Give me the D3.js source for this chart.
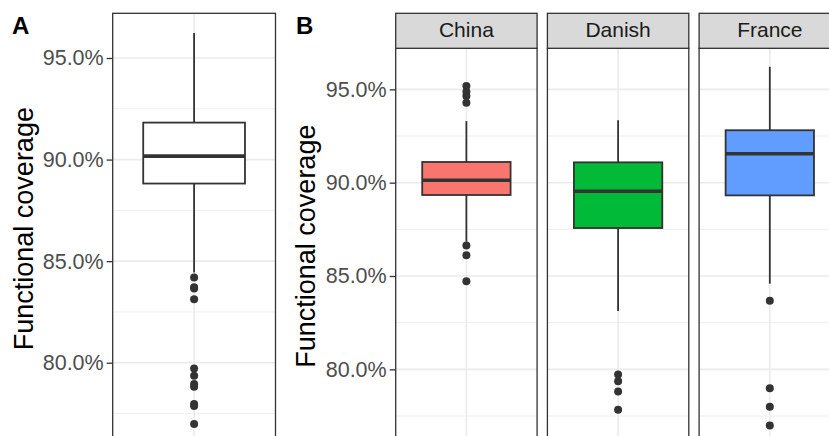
<!DOCTYPE html>
<html>
<head>
<meta charset="utf-8">
<script src="https://cdn.jsdelivr.net/npm/d3@7"></script>
<style>
  body { margin: 0; background: #fff; }
  svg text { font-family: "Liberation Sans", Arial, sans-serif; }
</style>
</head>
<body>
<div id="chart"></div>
<script>
// values (percent)
const groups = ["China", "Danish", "France"];
const groupColors = ["#F8766D", "#00BA38", "#619CFF"];
const q1 = [89.34, 87.57, 89.32];
const medians = [90.13, 89.54, 91.55];
const q3 = [91.11, 91.09, 92.81];
const whiskerLow = [86.84, 83.13, 84.59];
const whiskerHigh = [93.30, 93.34, 96.21];
const outliers = [
    [95.18, 94.87, 94.64, 94.28, 86.63, 86.11, 84.72],
    [79.72, 79.36, 78.81, 77.83],
    [83.68, 78.99, 77.99, 76.99]
];
// pooled box (panel A)
const allStats = [88.82, 90.17, 91.82, 84.44, 96.23]; // q1, median, q3, low, high
const allOutliers = [84.19, 83.71, 83.66, 83.12, 79.72, 79.36, 78.95, 78.82, 77.97, 77.87, 76.98];
const majorTicks = [80, 85, 90, 95];
const minorTicks = [77.5, 82.5, 87.5, 92.5];

const width = 829, height = 436;
const svg = d3.select("#chart").append("svg")
    .attr("width", width)
    .attr("height", height);

const yDomain = [76.0, 97.2];
const panelBottom = 444;
const fmt = d => d.toFixed(1) + "%";

function drawPanel(g, x0, x1, yTop, y, stat, outs, fill) {
    let pw = x1 - x0;
    let xs = d3.scaleLinear().domain([0.4, 1.6]).range([x0, x1]);
    // grid
    g.selectAll(".minor").data(minorTicks).enter().append("line")
        .attr("x1", x0).attr("x2", x1)
        .attr("y1", d => y(d)).attr("y2", d => y(d))
        .style("stroke", "#EBEBEB").style("stroke-width", 0.8);
    g.selectAll(".major").data(majorTicks).enter().append("line")
        .attr("x1", x0).attr("x2", x1)
        .attr("y1", d => y(d)).attr("y2", d => y(d))
        .style("stroke", "#EBEBEB").style("stroke-width", 1.6);
    g.append("line")
        .attr("x1", xs(1)).attr("x2", xs(1))
        .attr("y1", yTop).attr("y2", panelBottom)
        .style("stroke", "#EBEBEB").style("stroke-width", 1.6);

    let cx = xs(1);
    let half = xs(1.375) - xs(1);
    // whiskers
    g.append("line").attr("x1", cx).attr("x2", cx)
        .attr("y1", y(stat.high)).attr("y2", y(stat.q3))
        .style("stroke", "#333").style("stroke-width", 1.8);
    g.append("line").attr("x1", cx).attr("x2", cx)
        .attr("y1", y(stat.q1)).attr("y2", y(stat.low))
        .style("stroke", "#333").style("stroke-width", 1.8);
    // box
    g.append("rect")
        .attr("x", cx - half).attr("width", 2 * half)
        .attr("y", y(stat.q3)).attr("height", y(stat.q1) - y(stat.q3))
        .style("fill", fill).style("stroke", "#333").style("stroke-width", 1.8);
    g.append("line").attr("x1", cx - half).attr("x2", cx + half)
        .attr("y1", y(stat.med)).attr("y2", y(stat.med))
        .style("stroke", "#333").style("stroke-width", 3.6);
    // outliers
    g.selectAll(".out").data(outs).enter().append("circle")
        .attr("cx", cx).attr("cy", d => y(d)).attr("r", 4)
        .style("fill", "#333");
    // border
    g.append("rect")
        .attr("x", x0).attr("y", yTop).attr("width", pw).attr("height", panelBottom - yTop)
        .style("fill", "none").style("stroke", "#333").style("stroke-width", 1.3);
}

function drawAxis(x, y) {
    let ax = svg.append("g")
        .attr("transform", "translate(" + x + ",0)")
        .call(d3.axisLeft(y).tickValues(majorTicks).tickFormat(fmt).tickSize(6).tickPadding(3));
    ax.select(".domain").remove();
    ax.selectAll(".tick line").style("stroke", "#333").style("stroke-width", 1.3);
    ax.selectAll(".tick text").style("fill", "#4D4D4D").style("font-size", "21.5px");
}

//Panel A
const yA = d3.scaleLinear().domain(yDomain).range([panelBottom, 13.3]);
const gA = svg.append("g");
drawPanel(gA, 112.7, 275.5, 13.3, yA,
    {q1: allStats[0], med: allStats[1], q3: allStats[2], low: allStats[3], high: allStats[4]},
    allOutliers, "#fff");
drawAxis(112.7, yA);
svg.append("text")
    .attr("transform", "translate(32.5," + (13.3 + panelBottom) / 2 + ") rotate(-90)")
    .attr("text-anchor", "middle")
    .style("font-size", "27px").style("fill", "#000")
    .text("Functional coverage");
svg.append("text").attr("x", 12).attr("y", 34)
    .style("font-size", "24px").style("font-weight", "bold").text("A");

//Panel B
const stripTop = 13.3, stripBottom = 48.3;
const yB = d3.scaleLinear().domain(yDomain).range([panelBottom, stripBottom]);
const xB = d3.scaleBand().domain(groups).range([395.7, 840.5]).paddingInner(0.068);
groups.forEach(function(name, i) {
    let x0 = xB(name), x1 = xB(name) + xB.bandwidth();
    let g = svg.append("g");
    drawPanel(g, x0, x1, stripBottom, yB,
        {q1: q1[i], med: medians[i], q3: q3[i], low: whiskerLow[i], high: whiskerHigh[i]},
        outliers[i], groupColors[i]);
    g.append("rect")
        .attr("x", x0).attr("y", stripTop).attr("width", x1 - x0).attr("height", stripBottom - stripTop)
        .style("fill", "#D9D9D9").style("stroke", "#333").style("stroke-width", 1.3);
    g.append("text")
        .attr("x", (x0 + x1) / 2).attr("y", 37.3)
        .attr("text-anchor", "middle")
        .style("font-size", "21px").style("fill", "#1A1A1A")
        .text(name);
});
drawAxis(395.7, yB);
svg.append("text")
    .attr("transform", "translate(314.5," + (stripBottom + panelBottom) / 2 + ") rotate(-90)")
    .attr("text-anchor", "middle")
    .style("font-size", "27px").style("fill", "#000")
    .text("Functional coverage");
svg.append("text").attr("x", 296).attr("y", 33.5)
    .style("font-size", "24px").style("font-weight", "bold").text("B");
</script>
</body>
</html>
